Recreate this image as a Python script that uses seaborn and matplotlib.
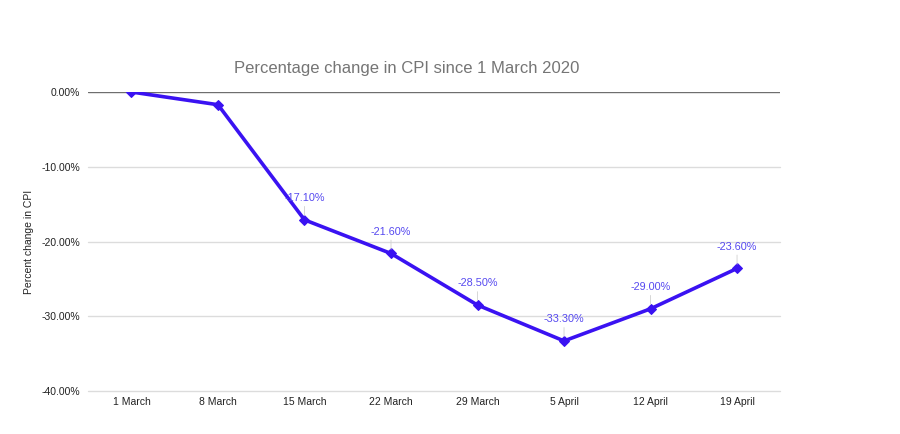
import numpy as np
import pandas as pd
import matplotlib
matplotlib.use("Agg")
import matplotlib.pyplot as plt
import seaborn as sns
from matplotlib.ticker import FuncFormatter

dates = ['1 March', '8 March', '15 March', '22 March', '29 March',
         '5 April', '12 April', '19 April']
cpi_change = [0.0, -1.7, -17.1, -21.6, -28.5, -33.3, -29.0, -23.6]
labelled = [False, False, True, True, True, True, True, True]

df = pd.DataFrame({'date': dates, 'change': cpi_change})

sns.set_style('white')
plt.rcParams['font.family'] = ['Liberation Sans', 'DejaVu Sans']

line_color = '#3a12f2'
label_color = '#5548f0'

fig = plt.figure(figsize=(9, 4.34), dpi=100)
ax = fig.add_axes([0.098, 0.099, 0.769, 0.689])

for yv in [-10, -20, -30, -40]:
    ax.axhline(yv, color='#dcdcdc', lw=1, zorder=0, clip_on=False)
ax.axhline(0, color='#6e6e6e', lw=1, zorder=1)

sns.lineplot(data=df, x='date', y='change', sort=False, ax=ax,
             color=line_color, lw=2.6, marker='D', markersize=5.5,
             markeredgecolor=line_color, zorder=3)

for i, (d, v) in enumerate(zip(dates, cpi_change)):
    if not labelled[i]:
        continue
    ax.annotate(f'{v:.2f}%', xy=(i, v), xytext=(0, 12), textcoords='offset points',
                ha='center', va='bottom', fontsize=7.8, color=label_color,
                arrowprops=dict(arrowstyle='-', color='#d0d0d0', lw=0.6,
                                shrinkA=0, shrinkB=3))

ax.set_xlim(-0.5, len(dates) - 0.5)
ax.set_ylim(-40, 0)
ax.set_yticks([0, -10, -20, -30, -40])
ax.yaxis.set_major_formatter(FuncFormatter(lambda v, p: f'{v:.2f}%'))
ax.tick_params(axis='both', length=0, labelsize=7.5, colors='#222222')
ax.tick_params(axis='y', pad=6)
ax.tick_params(axis='x', pad=4)
ax.set_xlabel('')
ax.set_ylabel('Percent change in CPI', fontsize=7.5, color='#222222', labelpad=5)
for s in ax.spines.values():
    s.set_visible(False)

fig.text(0.452, 0.843, 'Percentage change in CPI since 1 March 2020',
         ha='center', va='center', fontsize=12, color='#757575')

fig.savefig('out.png', dpi=100, facecolor='white')
